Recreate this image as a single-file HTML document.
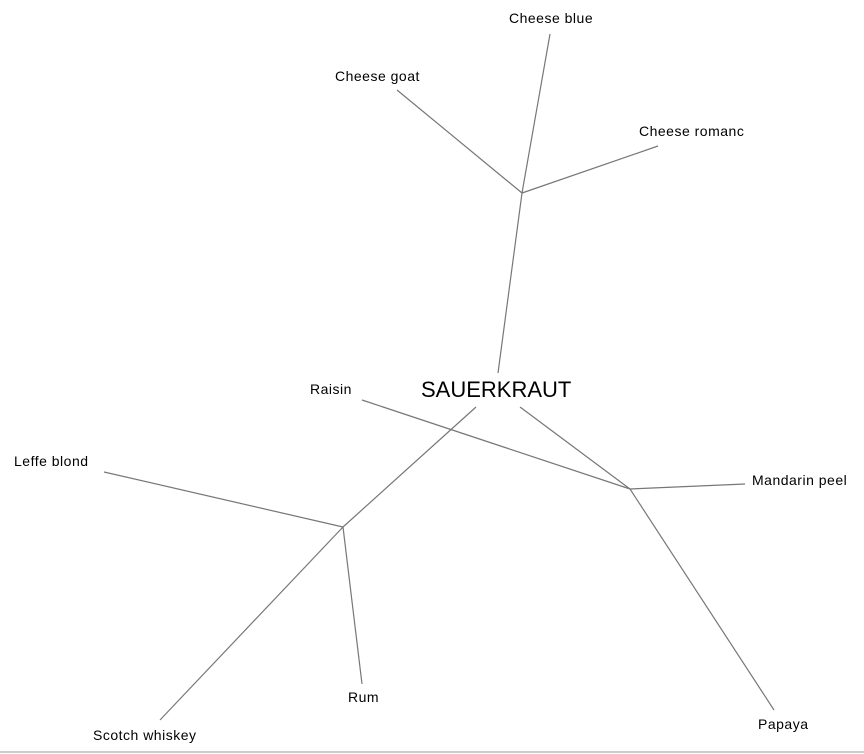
<!DOCTYPE html>
<html><head><meta charset="utf-8"><style>
html,body{margin:0;padding:0;background:#fff;}
svg{display:block;}
text{font-family:"Liberation Sans",Arial,sans-serif;font-size:14px;fill:#000;letter-spacing:0.5px;}
</style></head><body>
<svg width="864" height="754" viewBox="0 0 864 754" xmlns="http://www.w3.org/2000/svg">
<g stroke="#777" stroke-width="1.2" fill="none">
<line x1="498" y1="373" x2="522" y2="193"/>
<line x1="522" y1="193" x2="550" y2="34"/>
<line x1="522" y1="193" x2="397" y2="90"/>
<line x1="522" y1="193" x2="658" y2="146"/>
<line x1="476" y1="407" x2="343" y2="527"/>
<line x1="343" y1="527" x2="104" y2="472"/>
<line x1="343" y1="527" x2="362" y2="684"/>
<line x1="343" y1="527" x2="160" y2="720"/>
<line x1="520" y1="407" x2="630" y2="489"/>
<line x1="630" y1="489" x2="362" y2="400"/>
<line x1="630" y1="489" x2="745" y2="484"/>
<line x1="630" y1="489" x2="774" y2="710"/>
</g>
<line x1="0" y1="752" x2="864" y2="752" stroke="#bbb" stroke-width="1.5"/>
<text x="509" y="23">Cheese blue</text>
<text x="335" y="81">Cheese goat</text>
<text x="639" y="136">Cheese romanc</text>
<text x="421" y="397" style="font-size:22px;letter-spacing:0">SAUERKRAUT</text>
<text x="310" y="394">Raisin</text>
<text x="14" y="466">Leffe blond</text>
<text x="752" y="485">Mandarin peel</text>
<text x="348" y="702">Rum</text>
<text x="93" y="740">Scotch whiskey</text>
<text x="758" y="729">Papaya</text>
</svg>
</body></html>
